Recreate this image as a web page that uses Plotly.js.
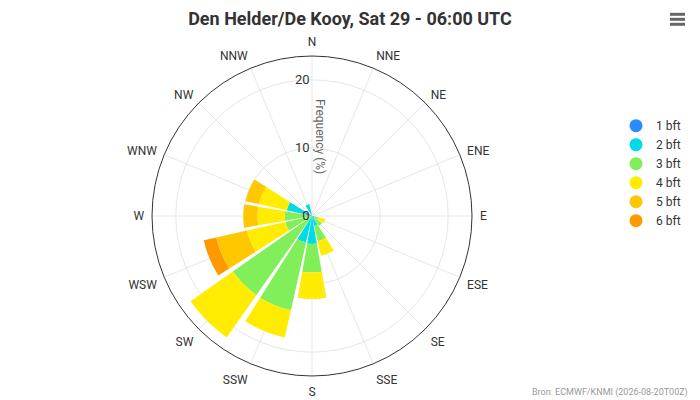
<!DOCTYPE html>
<html>
<head>
<meta charset="utf-8">
<script src="https://cdn.plot.ly/plotly-3.0.1.min.js"></script>
<style>html,body{margin:0;padding:0;background:#fff;}#chart{width:700px;height:400px;}</style>
</head>
<body>
<div id="chart"></div>
<script>
const directions = ['N','NNE','NE','ENE','E','ESE','SE','SSE','S','SSW','SW','WSW','W','WNW','NW','NNW'];
const classNames = ['1 bft','2 bft','3 bft','4 bft','5 bft','6 bft'];
const classColors = ['#2b8aff','#00dbe6','#80ef5a','#ffec00','#ffc700','#ff9900'];
// frequency (%) per direction, per Beaufort class
const bft1 = [0,0,0,0,0,0,0,0,0,0,0,0,0,1.0,0,0];
const bft2 = [0,0,0,0,0,0.4,0.5,1.5,4.1,4.0,0,0,0.5,2.8,0,1.8];
const bft3 = [0,0,0,0,0,0.6,1.3,2.3,4.2,10.2,14.2,4.0,3.5,0,0,0];
const bft4 = [0,0,0,0,0,1.0,0,2.2,3.9,4.1,7.6,5.8,4.0,4.2,0,0];
const bft5 = [0,0,0,0,0,0,0,0,0,0,0,4.6,2.1,2.0,0,0];
const bft6 = [0,0,0,0,0,0,0,0,0,0,0,1.9,0,0,0,0];
const series = [bft1,bft2,bft3,bft4,bft5,bft6];
const radialTicks = [0,10,20];

const traces = [];
series.forEach((vals,i)=>{
  traces.push({
    type:'barpolar', r: vals, theta: directions, name: classNames[i],
    marker:{color: classColors[i], line:{width:0}}, width: 0.88,
    showlegend:false, hoverinfo:'r+theta+name'
  });
});
series.forEach((vals,i)=>{
  traces.push({
    type:'scatterpolar', mode:'markers', r:[null], theta:[directions[0]], name: classNames[i],
    marker:{color: classColors[i], size:13, symbol:'circle'}, showlegend:true
  });
});

const layout = {
  width:700, height:400,
  margin:{l:0,r:0,t:0,b:0},
  paper_bgcolor:'#fff',
  font:{family:'Roboto, sans-serif', color:'#333', size:12},
  title:{text:'<b>Den Helder/De Kooy, Sat 29 - 06:00 UTC</b>', x:0.5, xanchor:'center', y:0.953, yanchor:'middle', font:{size:18, color:'#333', family:'Roboto, sans-serif'}},
  barmode:'stack',
  polar:{
    domain:{x:[152/700,472/700], y:[1-376/400, 1-56/400]},
    bgcolor:'rgba(0,0,0,0)',
    barmode:'stack',
    bargap:0,
    angularaxis:{
      type:'category', categoryarray:directions, rotation:90, direction:'clockwise',
      showline:true, linecolor:'#333', linewidth:1,
      showgrid:true, gridcolor:'#e6e6e6', gridwidth:1,
      ticks:'outside', ticklen:5, tickcolor:'rgba(0,0,0,0)',
      tickfont:{size:12, color:'#333'}
    },
    radialaxis:{
      range:[0,23.5], angle:90, tickangle:90, tickvals:radialTicks, ticktext:radialTicks.map(String),
      showline:false, showgrid:true, gridcolor:'#e6e6e6', gridwidth:1,
      ticks:'', tickfont:{size:13, color:'#333'}, side:'counterclockwise'
    }
  },
  legend:{x:0.88, xanchor:'left', y:0.722, yanchor:'top', font:{size:12,color:'#333'}, bgcolor:'rgba(0,0,0,0)', tracegroupgap:0},
  annotations:[
    {text:'Frequency (%)', xref:'paper', yref:'paper', x:320/700, y:1-136/400, showarrow:false, textangle:90, font:{size:12,color:'#666'}, xanchor:'center', yanchor:'middle'},
    {text:'Bron: ECMWF/KNMI (2026-08-20T00Z)', xref:'paper', yref:'paper', x:690/700, y:1-392/400, showarrow:false, xanchor:'right', yanchor:'middle', font:{size:9,color:'#999'}}
  ],
  shapes:[14.3,19.3,24.3].map(yy=>({type:'line', xref:'paper', yref:'paper', x0:670/700, x1:685/700, y0:1-yy/400, y1:1-yy/400, line:{color:'#666', width:3}}))
};
Plotly.newPlot('chart', traces, layout, {displayModeBar:false, staticPlot:false});
</script>
</body>
</html>
